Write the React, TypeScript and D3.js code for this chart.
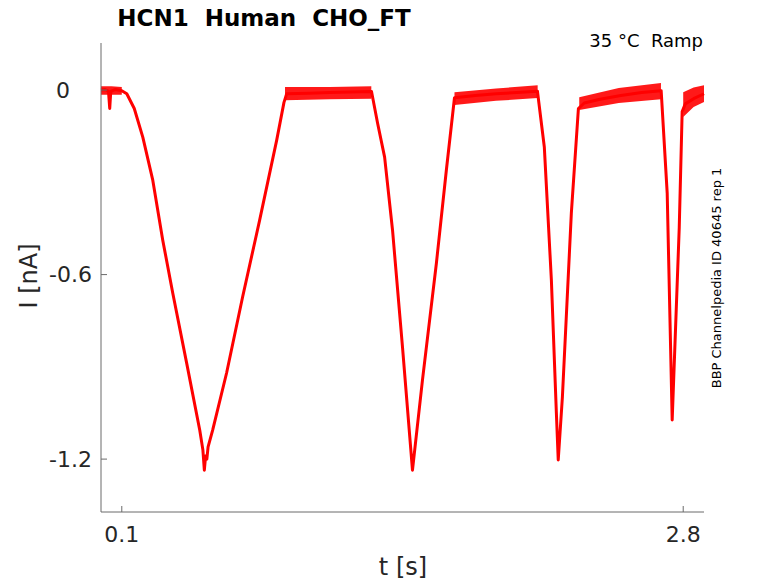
import * as d3 from 'd3'

// recorded current trace (time in s, current in nA)
const traceT = [
  0.0, 0.02, 0.036, 0.042, 0.047, 0.07, 0.1, 0.124, 0.16, 0.201, 0.249, 0.297, 0.345,
  0.412, 0.475, 0.49, 0.497, 0.503, 0.509, 0.515, 0.537, 0.604, 0.681, 0.763, 0.845,
  0.88, 0.893, 1.0, 1.1, 1.2, 1.301, 1.33, 1.364, 1.402, 1.45, 1.498, 1.546, 1.613,
  1.661, 1.7, 1.8, 1.9, 2.0, 2.099, 2.132, 2.166, 2.19, 2.199, 2.219, 2.262, 2.296,
  2.324, 2.4, 2.5, 2.6, 2.694, 2.723, 2.747, 2.781, 2.795, 2.81, 2.85, 2.9
]
const traceI = [
  0.0, 0.002, -0.004, -0.06, -0.004, 0.002, -0.002, -0.012, -0.06, -0.153, -0.293,
  -0.488, -0.66, -0.888, -1.106, -1.17, -1.236, -1.19, -1.2, -1.16, -1.106, -0.92,
  -0.673, -0.423, -0.163, -0.04, -0.012, -0.01, -0.008, -0.006, -0.005, -0.107,
  -0.218, -0.455, -0.836, -1.236, -0.943, -0.563, -0.26, -0.025, -0.018, -0.012,
  -0.008, -0.004, -0.185, -0.618, -1.05, -1.203, -0.998, -0.4, -0.06, -0.042, -0.03,
  -0.018, -0.008, -0.002, -0.335, -1.073, -0.446, -0.07, -0.045, -0.028, -0.012
]

// sweep-to-sweep spread on the holding plateaus
const bandT = [
  [0.0, 0.05, 0.1],
  [0.885, 1.1, 1.3],
  [1.7, 1.9, 2.1],
  [2.3, 2.49, 2.693],
  [2.8, 2.85, 2.9]
]
const bandHi = [
  [0.012, 0.012, 0.01],
  [0.01, 0.01, 0.012],
  [-0.007, 0.005, 0.016],
  [-0.023, 0.007, 0.023],
  [-0.007, 0.008, 0.016]
]
const bandLo = [
  [-0.015, -0.015, -0.015],
  [-0.033, -0.03, -0.028],
  [-0.049, -0.035, -0.026],
  [-0.065, -0.042, -0.03],
  [-0.088, -0.055, -0.039]
]

const xTicks = [0.1, 2.8]
const yTicks = [0, -0.6, -1.2]
// MATLAB pads the char labels to equal width
const yTickLabels = ['0   ', '-0.6', '-1.2']

const W = 778
const H = 583
const left = 101
const right = 704
const top = 43
const bottom = 512

export default function App() {
  const x = d3.scaleLinear().domain([0, 2.9]).range([left, right])
  const y = d3.scaleLinear().domain([-1.372, 0.153]).range([bottom, top])

  const trace = traceT.map((t, i) => [t, traceI[i]] as [number, number])
  const line = d3.line<[number, number]>().x(d => x(d[0])).y(d => y(d[1]))

  const area = d3.area<[number, number, number]>()
    .x(d => x(d[0]))
    .y0(d => y(d[1]))
    .y1(d => y(d[2]))

  const font = 'DejaVu Sans, sans-serif'
  const textColor = '#262626'
  const axisColor = '#6b6b6b'

  return (
    <svg width={W} height={H} style={{ position: 'absolute', left: 0, top: 0 }} fontFamily={font}>
      <rect width={W} height={H} fill="#fff" />

      {bandT.map((ts, k) => (
        <path
          key={k}
          d={area(ts.map((t, i) => [t, bandLo[k][i], bandHi[k][i]] as [number, number, number])) || ''}
          fill="#ff0000"
          fillOpacity={0.9}
        />
      ))}
      <path d={line(trace) || ''} fill="none" stroke="#ff0000" strokeWidth={3} strokeLinejoin="round" />

      {/* axes */}
      <line x1={left} x2={left} y1={top} y2={bottom} stroke={axisColor} strokeWidth={1} />
      <line x1={left} x2={right} y1={bottom} y2={bottom} stroke={axisColor} strokeWidth={1} />

      {yTicks.map((v, i) => (
        <g key={v}>
          <line x1={left} x2={left + 6} y1={y(v)} y2={y(v)} stroke={axisColor} />
          <text
            x={yTickLabels[i].trim().length < 4 ? 56 : 92}
            y={y(v)}
            dy="0.36em"
            textAnchor={yTickLabels[i].trim().length < 4 ? 'start' : 'end'}
            fontSize={22}
            fill={textColor}
          >
            {yTickLabels[i].trim()}
          </text>
        </g>
      ))}
      {xTicks.map(v => (
        <g key={v}>
          <line x1={x(v)} x2={x(v)} y1={bottom} y2={bottom - 6} stroke={axisColor} />
          <text x={x(v)} y={542} textAnchor="middle" fontSize={22} fill={textColor}>
            {d3.format('.1f')(v)}
          </text>
        </g>
      ))}

      <text x={403} y={575} textAnchor="middle" fontSize={24} fill={textColor}>t [s]</text>
      <text transform="translate(37,276) rotate(-90)" textAnchor="middle" fontSize={24} fill={textColor}>I [nA]</text>

      <text x={264} y={26} textAnchor="middle" fontSize={23} fontWeight="bold" fill="#000" style={{ whiteSpace: 'pre' }}>
        {'HCN1  Human  CHO_FT'}
      </text>
      <text x={703} y={47} textAnchor="end" fontSize={18} fill="#000" style={{ whiteSpace: 'pre' }}>
        {'35 °C  Ramp'}
      </text>
      <text transform="translate(721,278) rotate(-90)" textAnchor="middle" fontSize={13} fill="#000">
        BBP Channelpedia ID 40645 rep 1
      </text>
    </svg>
  )
}
